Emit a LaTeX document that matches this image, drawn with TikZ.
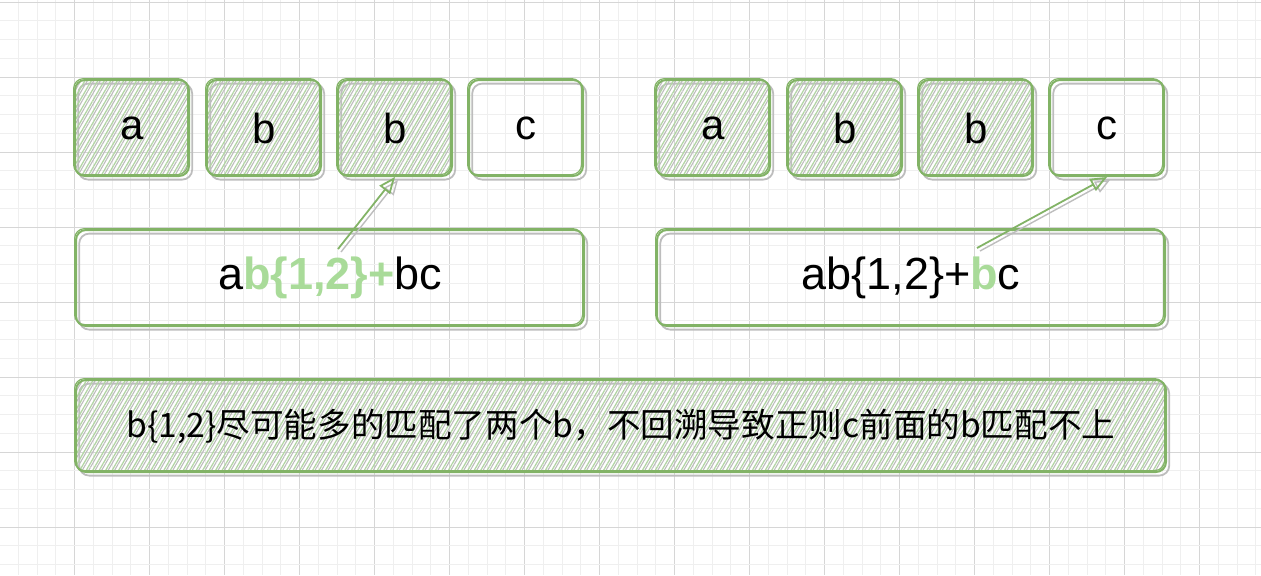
\documentclass[tikz,border=0pt]{standalone}
\usepackage{fontspec}
\setmainfont{Liberation Sans}
\newfontfamily\cjk{Noto Sans CJK SC}
\usepackage{xcolor}
\usetikzlibrary{arrows,patterns.meta}

\definecolor{sketchgreen}{HTML}{82B366}
\definecolor{hatchgreen}{HTML}{B3D5A5}
\definecolor{shadowgray}{HTML}{BDBDBD}
\definecolor{hlgreen}{HTML}{A9DB99}
\definecolor{gridminor}{HTML}{EFEFEF}
\definecolor{gridmajor}{HTML}{D6D6D6}

\begin{document}
\begin{tikzpicture}[x=0.5pt, y=-0.5pt, >=open triangle 45,
  cell/.style={draw=sketchgreen, line width=1pt, rounded corners=5pt, inner sep=0pt,
    minimum width=57pt, minimum height=48pt, font=\fontsize{21}{25}\selectfont,
    preaction={draw=shadowgray, line width=0.9pt, transform canvas={shift={(1.6pt,-1.8pt)}}},
    postaction={draw=sketchgreen, line width=0.6pt, transform canvas={shift={(-0.7pt,0.7pt)}}}},
  hatched/.style={
    preaction={pattern={Lines[angle=60,distance=2.8pt,xshift=1.2pt,line width=0.55pt]}, pattern color=shadowgray},
    preaction={pattern={Lines[angle=60,distance=2.8pt,line width=0.65pt]}, pattern color=hatchgreen}},
  regex/.style={cell, minimum width=254pt, minimum height=48pt, font=\fontsize{22.5}{27}\selectfont},
  note/.style={cell, hatched, minimum width=545pt, minimum height=46pt, font=\cjk\fontsize{16.8}{20}\selectfont},
  link/.style={->, draw=sketchgreen, line width=0.9pt,
    preaction={draw=shadowgray, line width=0.7pt, transform canvas={shift={(1.5pt,-1.5pt)}}}}]

\useasboundingbox (0,0) rectangle (1261,575);

% background grid
\foreach \k in {1,...,67}
{
	\pgfmathparse{mod(\k,4)==0 ? "gridmajor" : "gridminor"}
	\draw[\pgfmathresult, line width=0.4pt] (-0.5+18.75*\k,0) -- (-0.5+18.75*\k,575);
}
\foreach \k in {0,...,30}
{
	\pgfmathparse{mod(\k,4)==0 ? "gridmajor" : "gridminor"}
	\draw[\pgfmathresult, line width=0.4pt] (0,2+18.75*\k) -- (1261,2+18.75*\k);
}

% the string, twice
\foreach \side/\dx in {l/0, r/581}
{
	\foreach \lbl/\cx [count=\i] in {a/132, b/264, b/395}
	{
		\node[cell, hatched] (\side\i) at (\cx+\dx,128) {\lbl};
	}
	\node[cell] (\side4) at (526+\dx,128) {c};
}

% the regex
\node[regex] (lre) at (330,278) {a\textbf{\color{hlgreen}b\{1,2\}+}bc};
\node[regex] (rre) at (911,278) {ab\{1,2\}+\textbf{\color{hlgreen}b}c};

\coordinate (lstart) at (338,249);
\coordinate (rstart) at (977,248);
\draw[link] (lstart) -- (l3.south);
\draw[link] (rstart) -- (r4.south);

\node[note] (msg) at (621,426) {b\{1,2\}尽可能多的匹配了两个b，不回溯导致正则c前面的b匹配不上};

\end{tikzpicture}
\end{document}
